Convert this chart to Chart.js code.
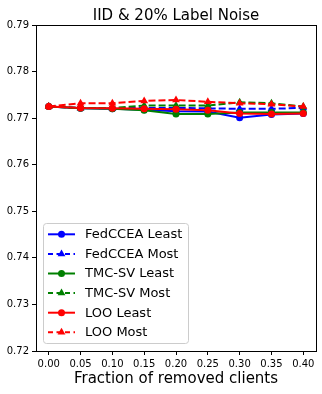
<!DOCTYPE html>
<html>
<head>
<meta charset="utf-8">
<script src="https://cdn.jsdelivr.net/npm/chart.js@4"></script>
<style>
  html, body { margin: 0; padding: 0; background: #fff; }
  #wrap { width: 322px; height: 394px; }
</style>
</head>
<body>
<div id="wrap"><canvas id="chart" width="322" height="394"></canvas></div>
<script>
const fractions = [0.00, 0.05, 0.10, 0.15, 0.20, 0.25, 0.30, 0.35, 0.40];
const yTicks = [0.72, 0.73, 0.74, 0.75, 0.76, 0.77, 0.78, 0.79];

const fedLeast = [0.7725, 0.7721, 0.7720, 0.7718, 0.7715, 0.7714, 0.7701, 0.7708, 0.7710];
const fedMost  = [0.7725, 0.7722, 0.7721, 0.7722, 0.7722, 0.7721, 0.7720, 0.7720, 0.7722];
const tmcLeast = [0.7725, 0.7721, 0.7720, 0.7717, 0.7709, 0.7709, 0.7712, 0.7712, 0.7712];
const tmcMost  = [0.7725, 0.7722, 0.7722, 0.7727, 0.7727, 0.7727, 0.7734, 0.7732, 0.7725];
const looLeast = [0.7725, 0.7722, 0.7721, 0.7720, 0.7719, 0.7717, 0.7710, 0.7709, 0.7710];
const looMost  = [0.7725, 0.7732, 0.7732, 0.7737, 0.7739, 0.7735, 0.7732, 0.7730, 0.7725];

const FONT = "'DejaVu Sans', sans-serif";

const series = [
  { label: 'FedCCEA Least', data: fedLeast, color: '#0000ff', dash: [], marker: 'circle' },
  { label: 'FedCCEA Most', data: fedMost, color: '#0000ff', dash: [7, 3], marker: 'triangle' },
  { label: 'TMC-SV Least', data: tmcLeast, color: '#008000', dash: [], marker: 'circle' },
  { label: 'TMC-SV Most', data: tmcMost, color: '#008000', dash: [7, 3], marker: 'triangle' },
  { label: 'LOO Least', data: looLeast, color: '#ff0000', dash: [], marker: 'circle' },
  { label: 'LOO Most', data: looMost, color: '#ff0000', dash: [7, 3], marker: 'triangle' }
];

const datasets = series.map((s, i) => ({
  label: s.label,
  data: s.data.map((v, j) => ({ x: fractions[j], y: v })),
  borderColor: s.color,
  backgroundColor: s.color,
  borderWidth: 2,
  borderDash: s.dash,
  pointStyle: s.marker,
  pointRadius: s.marker === 'circle' ? 3.5 : 4.5,
  pointBorderWidth: 0,
  tension: 0,
  order: series.length - i
}));

const drawMarker = (ctx, style, x, y, color) => {
  ctx.fillStyle = color;
  ctx.beginPath();
  if (style === 'circle') {
    ctx.arc(x, y, 3.5, 0, Math.PI * 2);
  } else {
    const r = 4.5;
    ctx.moveTo(x, y - r);
    ctx.lineTo(x + r * 0.866, y + r * 0.5);
    ctx.lineTo(x - r * 0.866, y + r * 0.5);
    ctx.closePath();
  }
  ctx.fill();
};

const decorations = {
  id: 'decorations',
  afterDraw(chart) {
    const { ctx, chartArea } = chart;
    ctx.save();
    // frame
    ctx.strokeStyle = '#000';
    ctx.lineWidth = 1;
    ctx.strokeRect(Math.round(chartArea.left) + 0.5, Math.round(chartArea.top) + 0.5,
      Math.round(chartArea.right - chartArea.left), Math.round(chartArea.bottom - chartArea.top));

    // title
    ctx.fillStyle = '#000';
    ctx.font = '15px ' + FONT;
    ctx.textAlign = 'center';
    ctx.textBaseline = 'alphabetic';
    ctx.fillText('IID & 20% Label Noise', (chartArea.left + chartArea.right) / 2, 20);

    // legend
    const bx = 43, by = 223, bw = 145, bh = 120;
    ctx.beginPath();
    ctx.roundRect(bx + 0.5, by + 0.5, bw, bh, 3);
    ctx.fillStyle = 'rgba(255,255,255,0.8)';
    ctx.fill();
    ctx.strokeStyle = '#cccccc';
    ctx.stroke();

    ctx.font = '13px ' + FONT;
    ctx.textAlign = 'left';
    ctx.textBaseline = 'middle';
    series.forEach((s, i) => {
      const y = 234.3 + i * 19.6;
      ctx.beginPath();
      ctx.setLineDash(s.dash.length ? [5, 3.5] : []);
      ctx.strokeStyle = s.color;
      ctx.lineWidth = 2;
      ctx.moveTo(48, y);
      ctx.lineTo(75, y);
      ctx.stroke();
      ctx.setLineDash([]);
      drawMarker(ctx, s.marker, 61.5, y, s.color);
      ctx.fillStyle = '#000';
      ctx.fillText(s.label, 85, y + 0.5);
    });
    ctx.restore();
  }
};

new Chart(document.getElementById('chart'), {
  type: 'line',
  data: { datasets },
  options: {
    responsive: false,
    animation: false,
    layout: { padding: { top: 25, right: 6, left: 0, bottom: 0 } },
    plugins: { legend: { display: false }, tooltip: { enabled: false }, title: { display: false } },
    scales: {
      x: {
        type: 'linear',
        min: -0.02,
        max: 0.42,
        afterBuildTicks: (scale) => { scale.ticks = fractions.map(v => ({ value: v })); },
        afterFit: (scale) => { scale.height = 43; },
        grid: { drawOnChartArea: false, drawTicks: true, tickLength: 4, color: '#000' },
        border: { color: '#000' },
        ticks: {
          color: '#000',
          font: { family: FONT, size: 10 },
          padding: 3,
          maxRotation: 0,
          autoSkip: false,
          callback: (v) => Number(v).toFixed(2)
        },
        title: {
          display: true,
          text: 'Fraction of removed clients',
          color: '#000',
          font: { family: FONT, size: 15 },
          padding: { top: 0, bottom: 6 }
        }
      },
      y: {
        min: 0.72,
        max: 0.79,
        afterBuildTicks: (scale) => { scale.ticks = yTicks.map(v => ({ value: v })); },
        afterFit: (scale) => { scale.width = 36; },
        grid: { drawOnChartArea: false, drawTicks: true, tickLength: 4, color: '#000' },
        border: { color: '#000' },
        ticks: {
          color: '#000',
          font: { family: FONT, size: 10 },
          padding: 3,
          callback: (v) => Number(v).toFixed(2)
        }
      }
    }
  },
  plugins: [decorations]
});
</script>
</body>
</html>
